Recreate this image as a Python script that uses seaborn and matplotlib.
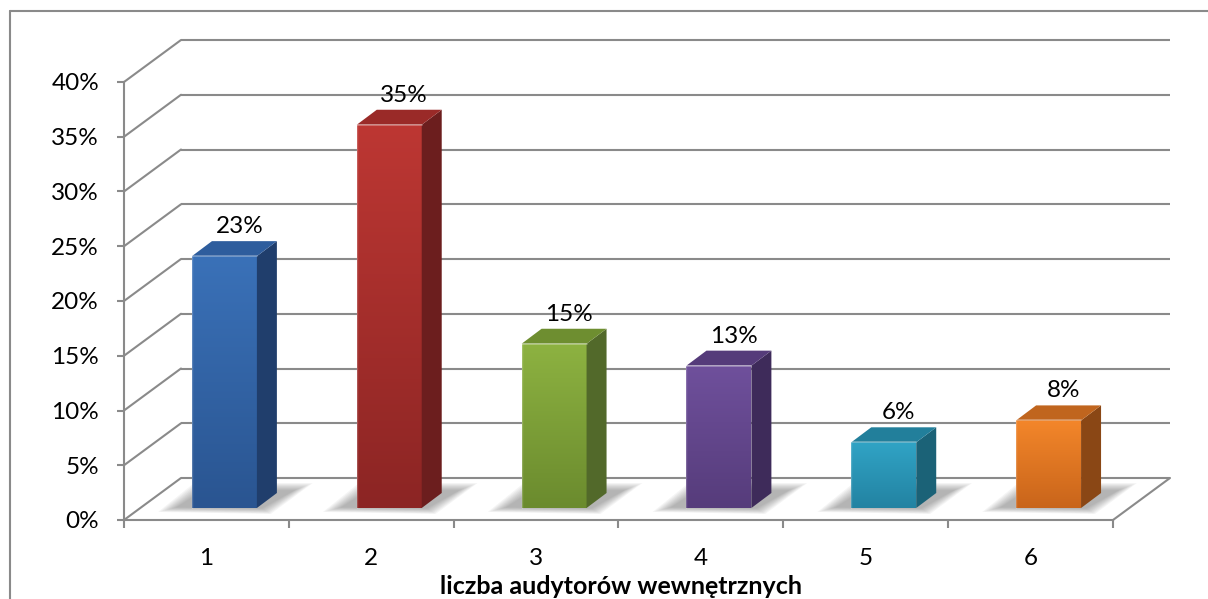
import numpy as np
import pandas as pd
import matplotlib
matplotlib.use("Agg")
import matplotlib.pyplot as plt
from matplotlib.patches import Polygon
from matplotlib.colors import to_rgb
import seaborn as sns

# ---- data ----
categories = ["1", "2", "3", "4", "5", "6"]
shares = [23, 35, 15, 13, 6, 8]
value_labels = ["23%", "35%", "15%", "13%", "6%", "8%"]
y_ticks = [0, 5, 10, 15, 20, 25, 30, 35, 40]
x_title = "liczba audytorów wewnętrznych"

# colours per bar: front (top, bottom), side, top face
front_top = ["#3A71B8", "#BD3733", "#8DB241", "#6F509C", "#30A3C5", "#F3862A"]
front_bot = ["#2A5591", "#8C2524", "#6B8B2E", "#563C7B", "#2383A2", "#C9651B"]
side_col = ["#203E6C", "#6C1E1E", "#52692A", "#3E2B5A", "#1B6277", "#8A4715"]
top_col = ["#2E5D9D", "#9A2A28", "#6E8E30", "#553B7A", "#227F9B", "#C0651E"]

sns.set_theme(style="white")
plt.rcParams["font.family"] = ["Lato", "DejaVu Sans"]

W, H = 1208, 599
fig = plt.figure(figsize=(W / 100, H / 100), dpi=100)
fig.patch.set_facecolor("white")

# front plane of the plot box in pixels
L, R, B, T = 124, 1113, 520, 82
ax = fig.add_axes([L / W, 1 - B / H, (R - L) / W, (B - T) / H])
ax.set_facecolor("none")

XMIN, XMAX, YMIN, YMAX = -0.5, 5.5, 0, 40
sx = (XMAX - XMIN) / (R - L)   # data units per pixel (x)
sy = (YMAX - YMIN) / (B - T)   # data units per pixel (y)

# 3D offsets (pixels -> data)
BX, BY = 57 * sx, 42 * sy      # back wall
FX, FY = 18 * sx, 12 * sy      # front plane of the bars
DX, DY = 20 * sx, 15 * sy      # bar depth

grid_c = "#8A8A8A"
lw = 1.5
fs = 17.5

df = pd.DataFrame({"cat": categories, "share": shares})
sns.barplot(data=df, x="cat", y="share", hue="cat", palette=front_top,
            legend=False, width=0.394, saturation=1, ax=ax, zorder=5)

# walls and gridlines
for v in y_ticks:
    ax.plot([XMIN + BX, XMAX + BX], [v + BY, v + BY], color=grid_c, lw=lw,
            clip_on=False, zorder=1, solid_capstyle="butt")
    ax.plot([XMIN, XMIN + BX], [v, v + BY], color=grid_c, lw=lw,
            clip_on=False, zorder=1)
# floor right edge
ax.plot([XMAX, XMAX + BX], [0, BY], color=grid_c, lw=lw, clip_on=False, zorder=1)

bars = list(ax.patches)
for i, p in enumerate(bars):
    x0 = p.get_x() + FX
    w = p.get_width()
    h = p.get_height()
    p.set_x(x0)
    p.set_y(FY)
    p.set_edgecolor("none")
    x1 = x0 + w
    y0, y1 = FY, FY + h

    # soft floor shadow: layered parallelograms behind the bar
    for k in range(9):
        m = (9 - k) * 2.2
        pts = [
            (x0 - (14 + m) * sx, y0 + (1 - 0.25 * m) * sy),
            (x1 + (4 + 0.5 * m) * sx, y0 - 0.3 * m * sy),
            (x1 + DX + (16 + m) * sx, y0 + DY + (2 + 0.4 * m) * sy),
            (x0 + DX - (8 + 0.5 * m) * sx, y0 + DY + (2 + 0.4 * m) * sy),
        ]
        ax.add_patch(Polygon(pts, closed=True, facecolor="#4A4A4A",
                             edgecolor="none", alpha=0.055, clip_on=False,
                             zorder=2))

    # vertical gradient on the front face
    c_top = np.array(to_rgb(front_top[i]))
    c_bot = np.array(to_rgb(front_bot[i]))
    t = np.linspace(0, 1, 64)[:, None]
    grad = (c_bot * (1 - t) + c_top * t)[:, None, :]
    im = ax.imshow(grad, extent=[x0, x1, y0, y1], origin="lower",
                   aspect="auto", zorder=6, interpolation="bilinear")
    im.set_clip_path(p)

    # side and top faces
    side = Polygon([(x1, y0), (x1 + DX, y0 + DY), (x1 + DX, y1 + DY), (x1, y1)],
                   closed=True, facecolor=side_col[i], edgecolor="none",
                   zorder=6, clip_on=False)
    top = Polygon([(x0, y1), (x1, y1), (x1 + DX, y1 + DY), (x0 + DX, y1 + DY)],
                  closed=True, facecolor=top_col[i], edgecolor="none",
                  zorder=6, clip_on=False)
    ax.add_patch(side)
    ax.add_patch(top)
    # light bevel on the front edges
    ax.plot([x0, x1], [y1, y1], color="white", alpha=0.35, lw=1.2, zorder=7,
            clip_on=False)
    ax.plot([x0, x0], [y0, y1], color="white", alpha=0.2, lw=1.0, zorder=7,
            clip_on=False)

    # value label
    ax.text(x0 + w / 2 + DX * 0.75, y1 + DY + 8 * sy, value_labels[i],
            ha="center", va="baseline", fontsize=fs, color="black",
            zorder=8, clip_on=False)

ax.set_xlim(XMIN, XMAX)
ax.set_ylim(YMIN, YMAX)

# axes, ticks, labels
for s in ["top", "right"]:
    ax.spines[s].set_visible(False)
for s in ["left", "bottom"]:
    ax.spines[s].set_visible(True)
    ax.spines[s].set_color(grid_c)
    ax.spines[s].set_linewidth(lw)
    ax.spines[s].set_zorder(3)

ax.set_yticks(y_ticks)
ax.set_yticklabels([f"{v}%" for v in y_ticks])
ax.tick_params(axis="y", direction="out", length=5, width=lw, color=grid_c,
               pad=13, labelsize=fs, labelcolor="black", left=True)
ax.set_xticks(range(len(categories)))
ax.set_xticklabels(categories)
ax.set_xticks(np.arange(XMIN, XMAX + 0.01, 1.0), minor=True)
ax.tick_params(axis="x", which="major", length=0, pad=20, labelsize=fs,
               labelcolor="black")
ax.tick_params(axis="x", which="minor", direction="out", length=6, width=lw,
               color=grid_c, bottom=True)
ax.set_xlabel("")
ax.set_ylabel("")

fig.text(621 / W, 1 - 586 / H, x_title, ha="center", va="center",
         fontsize=18, fontweight="bold", color="black")

# chart area border
fig.add_artist(plt.Line2D([10 / W, 1.0], [1 - 11 / H, 1 - 11 / H],
                          transform=fig.transFigure, color="#8A8A8A", lw=1.5))
fig.add_artist(plt.Line2D([10 / W, 10 / W], [0, 1 - 11 / H],
                          transform=fig.transFigure, color="#8A8A8A", lw=1.5))

fig.savefig("out.png", dpi=100, facecolor="white")
